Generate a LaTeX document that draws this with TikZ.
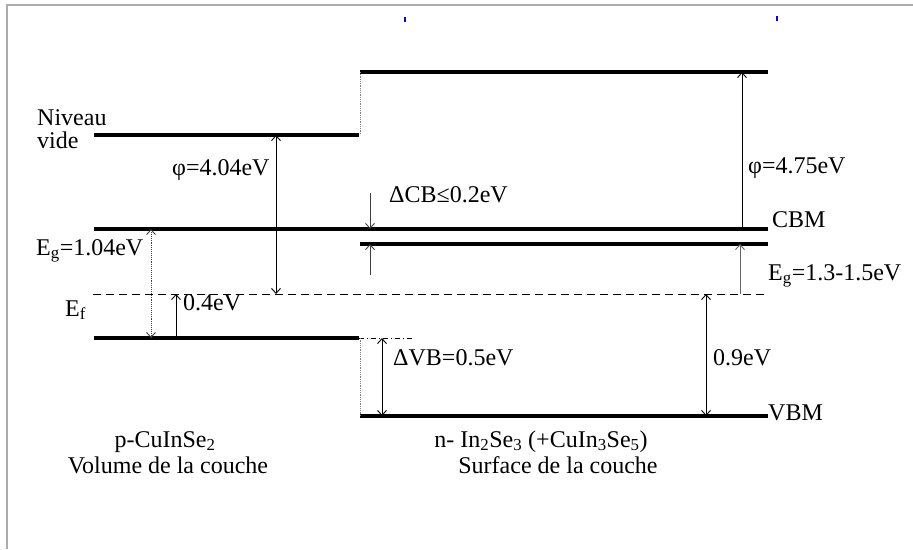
\documentclass[tikz,border=0pt]{standalone}
\usepackage{fontspec}
\setmainfont{Liberation Serif}
\usetikzlibrary{arrows.meta}

\begin{document}
\begin{tikzpicture}[x=1pt, y=-1pt,
  >={Straight Barb[length=5pt,width=9pt]},
  lvl/.style={line width=3.2pt},
  arr/.style={line width=0.9pt},
  lbl/.style={anchor=base west, inner sep=0pt, font={\fontsize{24}{28}\selectfont}},
  lblc/.style={lbl, anchor=base}]
\useasboundingbox (0,0) rectangle (913,549);
\draw[gray!65, line width=2pt] (7,549) -- (7,5) -- (913,5);
\draw[blue, line width=1.5pt] (405,17) -- (405,22);
\draw[blue, line width=1.5pt] (777,16) -- (777,21);
% levels
\coordinate (vacL0) at (94,135);
\coordinate (vacL1) at (359,135);
\coordinate (vacR0) at (360,72);
\coordinate (vacR1) at (768,72);
\coordinate (cbL0) at (94,229);
\coordinate (cbL1) at (768,229);
\coordinate (cbR0) at (360,244);
\coordinate (cbR1) at (768,244);
\coordinate (ef0) at (93,294);
\coordinate (ef1) at (765,294);
\coordinate (vbL0) at (94,338);
\coordinate (vbL1) at (359,338);
\coordinate (vbX) at (412,338);
\coordinate (vbR0) at (360,416);
\coordinate (vbR1) at (768,416);
\draw[lvl] (vacL0) -- (vacL1);
\draw[lvl] (vacR0) -- (vacR1);
\draw[lvl] (cbL0) -- (cbL1);
\draw[lvl] (cbR0) -- (cbR1);
\draw[lvl] (vbL0) -- (vbL1);
\draw[lvl] (vbR0) -- (vbR1);
\draw[line width=1pt, dash pattern=on 8pt off 5pt] (ef0) -- (ef1);
\draw[line width=1pt, dash pattern=on 5pt off 3pt on 1pt off 3pt] (vbL1) -- (vbX);
\draw[gray, densely dotted, line width=0.8pt] (vacR0) -- (vacR0 |- vacL1);
\draw[gray, densely dotted, line width=0.8pt] (vbR0) -- (vbR0 |- vbL1);
% arrows
\coordinate (xEgL) at (151,0);
\coordinate (xF) at (176,0);
\coordinate (xPhiL) at (276,0);
\coordinate (xCB) at (370,0);
\coordinate (xVB) at (382,0);
\coordinate (x09) at (706,0);
\coordinate (xEgR) at (740,0);
\coordinate (xPhiR) at (742,0);
\coordinate (cbTop) at (370,193);
\coordinate (cbBot) at (370,275);
\draw[arr, <->] (vacL0 -| xPhiL) -- (ef0 -| xPhiL);
\draw[arr, ->] (cbL0 -| xPhiR) -- (vacR0 -| xPhiR);
\draw[arr, black!75, ->] (cbTop) -- (cbL0 -| xCB);
\draw[arr, black!75, ->] (cbBot) -- (cbR0 -| xCB);
\draw[arr, black!75, densely dotted, <->] (cbL0 -| xEgL) -- (vbL0 -| xEgL);
\draw[arr, ->] (vbL0 -| xF) -- (ef0 -| xF);
\draw[arr, black!60, ->] (ef0 -| xEgR) -- (cbR0 -| xEgR);
\draw[arr, <->] (ef0 -| x09) -- (vbR0 -| x09);
\draw[arr, <->] (vbL0 -| xVB) -- (vbR0 -| xVB);
% labels
\node[lbl] (niv) at (37,125) {Niveau};
\node[lbl] (vide) at (37,148) {vide};
\node[lbl] (phiL) at (172,175) {φ=4.04eV};
\node[lbl] (phiR) at (748,173) {φ=4.75eV};
\node[lbl] (dCB) at (389,202) {ΔCB≤0.2eV};
\node[lbl] (cbm) at (772,227) {CBM};
\node[lbl] (egL) at (36,255) {E\textsubscript{g}=1.04eV};
\node[lbl] (egR) at (768,280) {E\textsubscript{g}=1.3-1.5eV};
\node[lbl] (ef) at (65,316) {E\textsubscript{f}};
\node[lbl] (f04) at (183,310) {0.4eV};
\node[lbl] (dVB) at (393,365) {ΔVB=0.5eV};
\node[lbl] (v09) at (713,365) {0.9eV};
\node[lbl] (vbm) at (768,420) {VBM};
\node[lblc] (pcis) at (165,447) {p-CuInSe\textsubscript{2}};
\node[lblc] (vol) at (168,473) {Volume de la couche};
\node[lblc] (nins) at (541,447) {n- In\textsubscript{2}Se\textsubscript{3} (+CuIn\textsubscript{3}Se\textsubscript{5})};
\node[lblc] (surf) at (558,473) {Surface de la couche};
\end{tikzpicture}
\end{document}
